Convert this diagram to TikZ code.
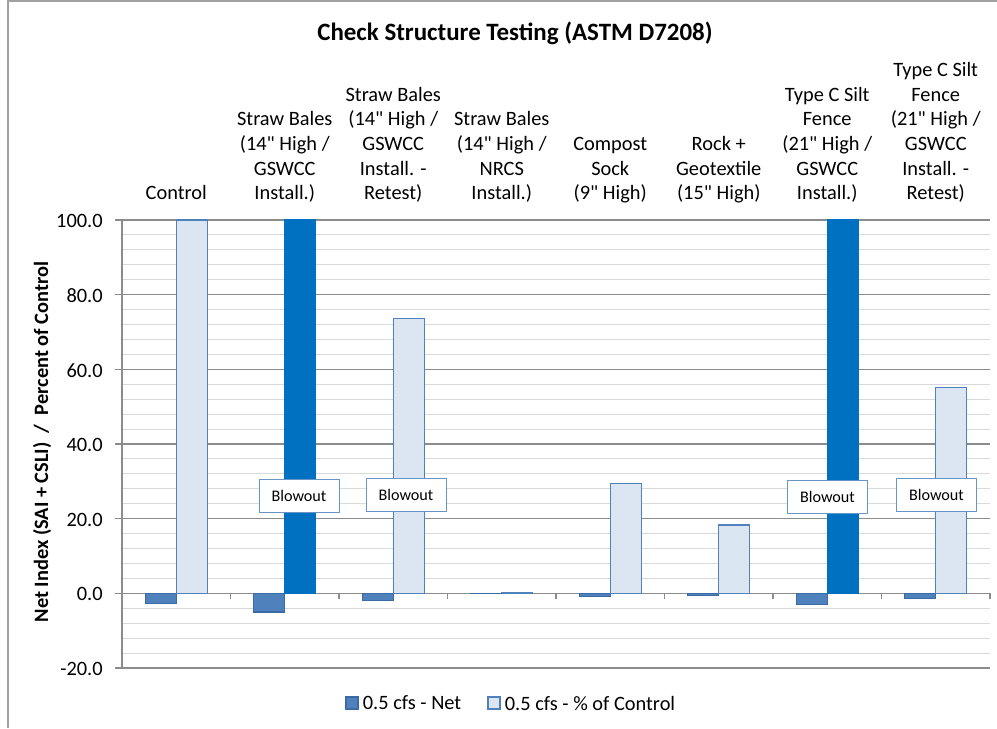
\documentclass[tikz,border=0pt]{standalone}
\usepackage{fontspec}
\setmainfont{Carlito}[Ligatures=TeXOff]
\usetikzlibrary{positioning}
\definecolor{netblue}{HTML}{4F81BD}
\definecolor{netedge}{HTML}{3C6AA5}
\definecolor{pctfill}{HTML}{DCE6F2}
\definecolor{pctedge}{HTML}{4F81BD}
\definecolor{blowblue}{HTML}{0070C0}
\definecolor{majorgrid}{HTML}{8C8C8C}
\definecolor{minorgrid}{HTML}{D9D9D9}
\definecolor{framegray}{HTML}{A0A0A0}
\newcommand{\vpos}[1]{593.33-3.7333*(#1)}
\tikzset{netbar/.style={fill=netblue, draw=netedge, line width=0.6pt}}
\tikzset{pctbar/.style={fill=pctfill, draw=pctedge, line width=0.6pt}}
\tikzset{blowbar/.style={fill=blowblue, draw=blowblue, line width=0.6pt}}
\tikzset{catlabel/.style={anchor=south, inner sep=0pt, text depth=0pt, align=center,
    font=\fontsize{11.6}{14}\selectfont}}
\tikzset{ticklab/.style={anchor=east, inner sep=0pt, font=\fontsize{11.6}{14}\selectfont}}
\tikzset{blowbox/.style={draw=pctedge!85, fill=white, line width=0.5pt, minimum width=1.6cm,
    minimum height=0.66cm, inner sep=0pt, font=\fontsize{9.2}{11}\selectfont}}
\tikzset{legkey/.style={minimum size=0.24cm, inner sep=0pt, line width=0.6pt}}
\tikzset{legtext/.style={inner sep=0pt, font=\fontsize{11.6}{14}\selectfont}}

\begin{document}
\begin{tikzpicture}[x=0.02cm, y=-0.02cm]
    \useasboundingbox (0,0) rectangle (997,728);
    \draw[framegray, line width=0.8pt] (997,1) -- (8,1) -- (8,728);

    \node[font=\fontsize{14.2}{17}\selectfont\bfseries] (title) at (515,33) {Check Structure Testing (ASTM D7208)};

    % grid
    \foreach \v in {-16,-12,...,96}
        \draw[minorgrid, line width=0.6pt] (122,{\vpos{\v}}) -- (990,{\vpos{\v}});
    \foreach \v in {-20,0,...,100}{
        \draw[majorgrid, line width=0.6pt] (115,{\vpos{\v}}) -- (990,{\vpos{\v}});
        \node[ticklab] (tick\v) at (103,{\vpos{\v}+1}) {\v.0};
    }
    \draw[majorgrid, line width=0.6pt] (122,220) -- (122,668);
    \foreach \k in {0,...,8}
        \draw[majorgrid, line width=0.6pt] ({122+108.5*\k},{\vpos{0}}) -- ({122+108.5*\k},{\vpos{0}+6});

    % bars
    \foreach \i/\net/\pct/\sty in {1/-2.7/100/pctbar, 2/-5.0/100/blowbar, 3/-1.9/73.6/pctbar,
        4/-0.15/0.3/pctbar, 5/-0.8/29.5/pctbar, 6/-0.6/18.3/pctbar, 7/-2.9/100/blowbar,
        8/-1.4/55.1/pctbar}{
        \pgfmathsetmacro\c{122+108.5*(\i-0.5)}
        \draw[netbar] ({\c-31},{\vpos{0}}) rectangle (\c,{\vpos{\net}});
        \draw[\sty] (\c,{\vpos{0}}) rectangle ({\c+31},{\vpos{\pct}});
    }

    \node[blowbox] (blow1) at (299,495.5) {Blowout};
    \node[blowbox] (blow2) at (406,494.5) {Blowout};
    \node[blowbox] (blow3) at (827.5,497) {Blowout};
    \node[blowbox] (blow4) at (936.5,495) {Blowout};

    % category labels
    \node[catlabel] (cat1) at (176.25,200) {Control};
    \node[catlabel] (cat2) at (284.75,200) {Straw Bales\\(14" High /\\GSWCC\\Install.)};
    \node[catlabel] (cat3) at (393.25,200) {Straw Bales\\(14" High /\\GSWCC\\Install. -\\Retest)};
    \node[catlabel] (cat4) at (501.75,200) {Straw Bales\\(14" High /\\NRCS\\Install.)};
    \node[catlabel] (cat5) at (610.25,200) {Compost\\Sock\\(9" High)};
    \node[catlabel] (cat6) at (718.75,200) {Rock +\\Geotextile\\(15" High)};
    \node[catlabel] (cat7) at (827.25,200) {Type C Silt\\Fence\\(21" High /\\GSWCC\\Install.)};
    \node[catlabel] (cat8) at (935.75,200) {Type C Silt\\Fence\\(21" High /\\GSWCC\\Install. -\\Retest)};

    \node[rotate=90, font=\fontsize{11.6}{14}\selectfont\bfseries] (ytitle) at (42,442)
        {Net Index (SAI + CSLI)\ \ /\ \ Percent of Control};

    % legend
    \node[legkey, fill=netblue, draw=netedge] (keynet) at (352,703) {};
    \node[legtext, anchor=west, right=0.08cm of keynet] (legnet) {0.5 cfs - Net};
    \node[legkey, fill=pctfill, draw=pctedge] (keypct) at (494,703) {};
    \node[legtext, anchor=west, right=0.08cm of keypct] (legpct) {0.5 cfs - \% of Control};
\end{tikzpicture}
\end{document}
